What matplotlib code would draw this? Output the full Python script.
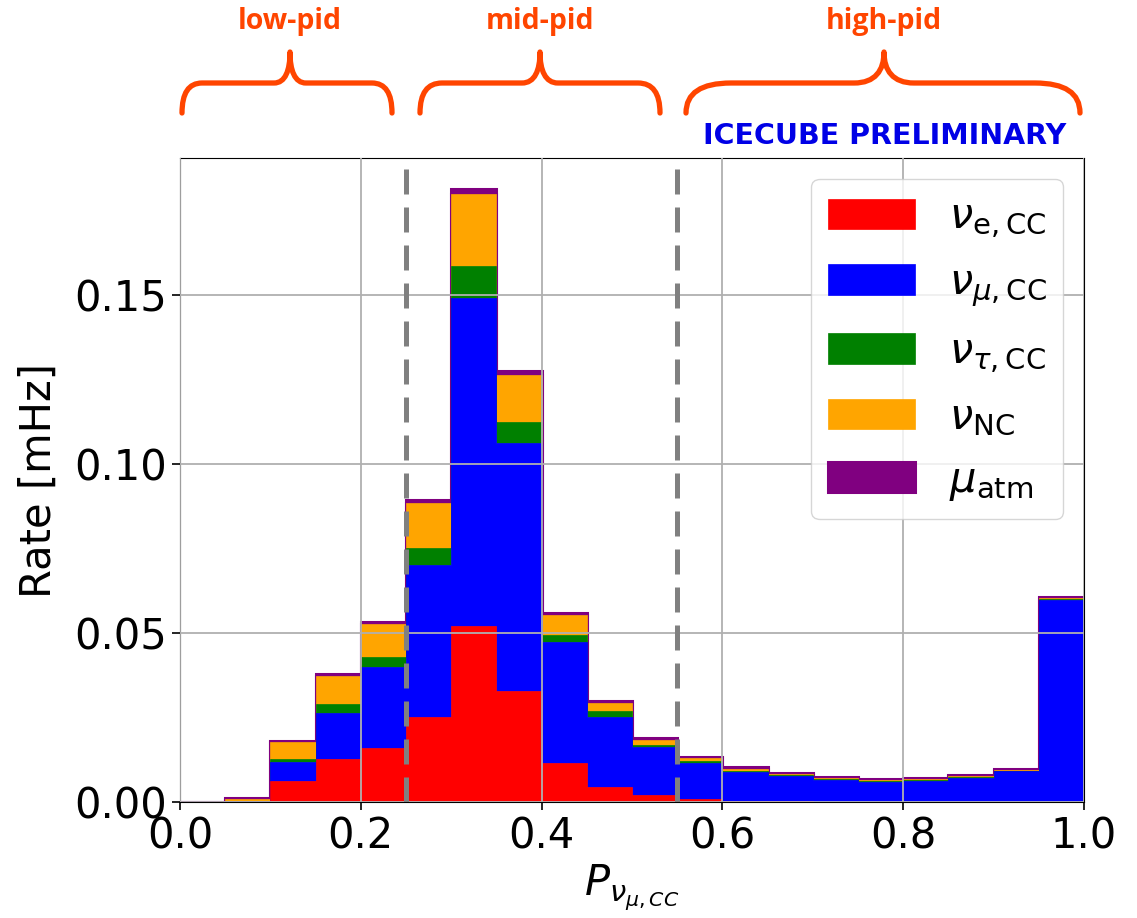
import matplotlib
matplotlib.use("Agg")
import matplotlib.pyplot as plt
from matplotlib.path import Path
from matplotlib.patches import PathPatch
import numpy as np

# bin edges of P_{nu_mu,CC} and rates per bin [mHz]
edges = np.linspace(0.0, 1.0, 21)
nu_e = [0, 0.0001, 0.0063, 0.0127, 0.0160, 0.0253, 0.0520, 0.0330, 0.0115, 0.0045,
        0.0021, 0.0008, 0.0004, 0.0002, 0.0001, 0.0001, 0.0001, 0.0001, 0.0001, 0.0001]
nu_mu = [0, 0.0002, 0.0054, 0.0138, 0.0239, 0.0448, 0.0971, 0.0732, 0.0359, 0.0208,
         0.0143, 0.0108, 0.0085, 0.0075, 0.0065, 0.0058, 0.0062, 0.0071, 0.0090, 0.0598]
nu_tau = [0, 0.0001, 0.0011, 0.0025, 0.0030, 0.0052, 0.0096, 0.0064, 0.0020, 0.0015,
          0.0005, 0.0004, 0.0004, 0.0003, 0.0003, 0.0003, 0.0003, 0.0003, 0.0002, 0.0003]
nu_nc = [0, 0.0006, 0.0051, 0.0082, 0.0097, 0.0131, 0.0214, 0.0138, 0.0059, 0.0025,
         0.0015, 0.0009, 0.0006, 0.0004, 0.0003, 0.0002, 0.0002, 0.0002, 0.0001, 0.0001]
mu_atm = [0, 0.0002, 0.0003, 0.0007, 0.0008, 0.0010, 0.0015, 0.0013, 0.0007, 0.0005,
          0.0006, 0.0003, 0.0004, 0.0003, 0.0003, 0.0003, 0.0003, 0.0003, 0.0004, 0.0005]

labels = [r"$\nu_{\mathrm{e},\mathrm{CC}}$", r"$\nu_{\mu,\mathrm{CC}}$",
          r"$\nu_{\tau,\mathrm{CC}}$", r"$\nu_{\mathrm{NC}}$", r"$\mu_{\mathrm{atm}}$"]
colors = ["red", "blue", "green", "orange", "purple"]
cuts = [0.25, 0.55]

# pid regions: label, left, right, apex, corner, apex width (pixels)
regions = [("low-pid", 182, 392, 290, 20, 16),
           ("mid-pid", 420, 660, 540, 22, 18),
           ("high-pid", 686, 1080, 884, 45, 30)]

W, H = 1137, 918
fig = plt.figure(figsize=(W / 100, H / 100), dpi=100)
ax = fig.add_axes([180 / W, 1 - 802 / H, 904 / W, 644 / H])

centers = 0.5 * (edges[:-1] + edges[1:])
rates = [nu_e, nu_mu, nu_tau, nu_nc, mu_atm]
n, b, patches = ax.hist([centers] * 5, bins=edges, weights=rates, stacked=True,
                        histtype="stepfilled", color=colors, label=labels)
for p, c in zip(patches, colors):
    for poly in p:
        poly.set_edgecolor(c)
        poly.set_linewidth(2.2 if c == "purple" else 0.5)

for xc in cuts:
    ax.axvline(xc, color="gray", lw=3.6, ls=(0, (5, 2.6)), zorder=3)

ax.set_xlim(0, 1)
ax.set_ylim(0, 0.1907)
ax.set_yticks([0.0, 0.05, 0.10, 0.15])
ax.set_axisbelow(False)
ax.grid(True, color="#b0b0b0", lw=1.3)
ax.tick_params(labelsize=30, length=6, width=1.2)
ax.set_xlabel(r"$P_{\nu_{\mu,CC}}$", fontsize=30, labelpad=4)
ax.set_ylabel("Rate [mHz]", fontsize=30, labelpad=10)
handles = [p[0] for p in patches]
ax.legend(handles, labels, loc="upper right", fontsize=30, handlelength=2.1,
          handleheight=0.75, handletextpad=0.8, labelspacing=0.5)


def brace(x0, x1, xm, c, a, yb=113, yh=83, yt=52):
    f = lambda x, y: (x / W, 1 - y / H)
    dy = yt - yh
    verts = [f(x0, yb), f(x0, yh), f(x0 + c, yh),
             f(xm - a, yh),
             f(xm - 0.3 * a, yh), f(xm, yh + 0.4 * dy), f(xm, yt),
             f(xm, yh + 0.4 * dy), f(xm + 0.3 * a, yh), f(xm + a, yh),
             f(x1 - c, yh),
             f(x1, yh), f(x1, yb)]
    codes = [Path.MOVETO, Path.CURVE3, Path.CURVE3, Path.LINETO,
             Path.CURVE4, Path.CURVE4, Path.CURVE4,
             Path.CURVE4, Path.CURVE4, Path.CURVE4,
             Path.LINETO, Path.CURVE3, Path.CURVE3]
    return PathPatch(Path(verts, codes), fill=False, edgecolor="#FF4500", lw=3.8,
                     capstyle="round", joinstyle="round", transform=fig.transFigure)


for name, x0, x1, xm, c, a in regions:
    fig.patches.append(brace(x0, x1, xm, c, a))
    fig.text(xm / W, 1 - 21 / H, name, color="#FF4500", fontsize=20.5,
             fontweight="bold", family="Open Sans", ha="center", va="center")

fig.text(1066 / W, 1 - 136 / H, "ICECUBE PRELIMINARY", color="#0000E6",
         fontsize=20.5, fontweight="bold", ha="right", va="center")

fig.savefig("out.png", dpi=100)
